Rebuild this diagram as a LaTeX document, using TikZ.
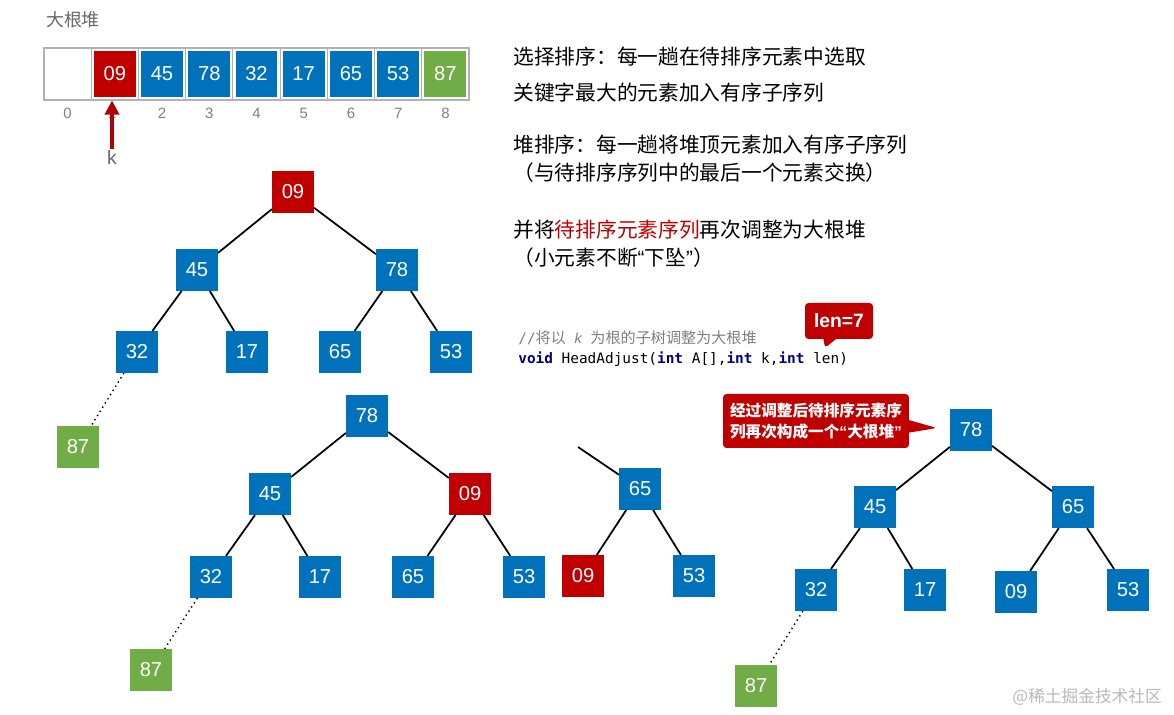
\documentclass[tikz,border=0pt]{standalone}
\usepackage{fontspec}
\setmainfont{Liberation Sans}
\setmonofont{DejaVu Sans Mono}
\newfontfamily\cjk{Noto Sans CJK SC}
\usetikzlibrary{arrows.meta,shapes.callouts}
\definecolor{hblue}{RGB}{0,114,188}
\definecolor{hred}{RGB}{192,0,0}
\definecolor{hgreen}{RGB}{112,173,71}
\definecolor{kwblue}{RGB}{0,0,128}
\definecolor{txtgray}{RGB}{105,105,105}
\newcommand{\kw}[1]{{\bfseries\color{kwblue}#1}}
\newcommand{\openq}{{\rmfamily “}}
\newcommand{\closeq}{{\rmfamily ”}}

\begin{document}
\begin{tikzpicture}[x=0.02cm,y=-0.02cm,
cell/.style={draw=gray!60,line width=0.6pt,minimum width=0.944cm,minimum height=1.04cm,inner sep=0pt},
val/.style={minimum width=0.84cm,minimum height=0.92cm,inner sep=0pt,text=white,font=\fontsize{11.5}{13}\selectfont},
idx/.style={text=gray,font=\fontsize{8.5}{10}\selectfont},
key/.style={minimum size=0.83cm,inner sep=0pt,text=white,font=\fontsize{11.5}{13}\selectfont},
bkey/.style={key,fill=hblue},
rkey/.style={key,fill=hred},
gkey/.style={key,fill=hgreen},
edge/.style={line width=1pt},
tail/.style={dotted,line width=0.8pt},
note/.style={anchor=west,inner sep=0pt,font=\cjk\fontsize{11.8}{14}\selectfont},
code/.style={anchor=west,inner sep=0pt,font=\ttfamily\fontsize{8.2}{10}\selectfont},
tip/.style={rectangle callout,fill=hred,rounded corners=2pt,inner sep=0pt,text=white}
]
\path[use as bounding box,fill=white] (0,0) rectangle (1174,715);

% array
\node[text=txtgray,font=\cjk\fontsize{10.2}{12}\selectfont](title) at (73,20) {大根堆};

\node[cell](c0) at (67.6,74) {};
\node[cell](c1) at (114.8,74) {};
\node[cell](c2) at (162,74) {};
\node[cell](c3) at (209.3,74) {};
\node[cell](c4) at (256.5,74) {};
\node[cell](c5) at (303.7,74) {};
\node[cell](c6) at (351,74) {};
\node[cell](c7) at (398.2,74) {};
\node[cell](c8) at (445.4,74) {};

\node[val,fill=hred](v1) at (c1) {09};
\node[val,fill=hblue](v2) at (c2) {45};
\node[val,fill=hblue](v3) at (c3) {78};
\node[val,fill=hblue](v4) at (c4) {32};
\node[val,fill=hblue](v5) at (c5) {17};
\node[val,fill=hblue](v6) at (c6) {65};
\node[val,fill=hblue](v7) at (c7) {53};
\node[val,fill=hgreen](v8) at (c8) {87};

\node[idx](i0) at (67.6,113) {0};
\node[idx](i1) at (112,113) {1};
\node[idx](i2) at (162,113) {2};
\node[idx](i3) at (209.3,113) {3};
\node[idx](i4) at (256.5,113) {4};
\node[idx](i5) at (303.7,113) {5};
\node[idx](i6) at (351,113) {6};
\node[idx](i7) at (398.2,113) {7};
\node[idx](i8) at (445.4,113) {8};

\node[text=txtgray,font=\fontsize{11}{13}\selectfont,inner sep=1pt](k) at (112,158) {k};
\draw[hred!92!black,line width=2.3pt,-{Triangle[length=8pt,width=8pt]}] (k.north) -- (k.north |- c1.south);

% notes
\node[note](n1) at (513,57) {选择排序：每一趟在待排序元素中选取};
\node[note](n2) at (513,93) {关键字最大的元素加入有序子序列};
\node[note](n3) at (513,145) {堆排序：每一趟将堆顶元素加入有序子序列};
\node[note](n4) at (513,173) {（与待排序序列中的最后一个元素交换）};
\node[note](n5) at (513,230) {并将{\color{hred}待排序元素序列}再次调整为大根堆};
\node[note](n6) at (513,258) {（小元素不断\openq 下坠\closeq）};

% code
\node[code,text=gray](cmt) at (518,338) {//{\cjk\fontsize{8.6}{10}\selectfont 将以}\ {\rmfamily\itshape k}\ {\cjk\fontsize{8.6}{10}\selectfont 为根的子树调整为大根堆}};
\node[code](sig) at (518,359) {\kw{void} HeadAdjust(\kw{int} A[],\kw{int} k,\kw{int} len)};

\coordinate (lenptr) at (825,348);
\node[tip,callout absolute pointer={(lenptr)},minimum width=1.36cm,minimum height=0.72cm,font=\bfseries\fontsize{11}{13}\selectfont](len) at (839,321) {len=7};

% tree before adjusting
\node[rkey](a09) at (293,192) {09};
\node[bkey](a45) at (197,270) {45};
\node[bkey](a78) at (397,270) {78};
\node[bkey](a32) at (137,352) {32};
\node[bkey](a17) at (247,352) {17};
\node[bkey](a65) at (340,352) {65};
\node[bkey](a53) at (451,352) {53};
\node[gkey](a87) at (78,447) {87};

\draw[edge] (a09) -- (a45);
\draw[edge] (a09) -- (a78);
\draw[edge] (a45) -- (a32);
\draw[edge] (a45) -- (a17);
\draw[edge] (a78) -- (a65);
\draw[edge] (a78) -- (a53);
\draw[tail] (a32) -- (a87);

% after first swap
\node[bkey](b78) at (367,416) {78};
\node[bkey](b45) at (270,494) {45};
\node[rkey](b09) at (470,494) {09};
\node[bkey](b32) at (211,577) {32};
\node[bkey](b17) at (320,577) {17};
\node[bkey](b65) at (413,577) {65};
\node[bkey](b53) at (524,577) {53};
\node[gkey](b87) at (151,670) {87};

\draw[edge] (b78) -- (b45);
\draw[edge] (b78) -- (b09);
\draw[edge] (b45) -- (b32);
\draw[edge] (b45) -- (b17);
\draw[edge] (b09) -- (b65);
\draw[edge] (b09) -- (b53);
\draw[tail] (b32) -- (b87);

% sinking 09
\coordinate (pcut) at (578,447);
\node[bkey](p65) at (640,489) {65};
\node[rkey](p09) at (583,576) {09};
\node[bkey](p53) at (694,576) {53};

\draw[edge] (pcut) -- (p65);
\draw[edge] (p65) -- (p09);
\draw[edge] (p65) -- (p53);

% big root heap again
\node[bkey](r78) at (971,430) {78};
\node[bkey](r45) at (875,507) {45};
\node[bkey](r65) at (1073,507) {65};
\node[bkey](r32) at (816,590) {32};
\node[bkey](r17) at (925,590) {17};
\node[bkey](r09) at (1016,592) {09};
\node[bkey](r53) at (1128,590) {53};
\node[gkey](r87) at (756,686) {87};

\draw[edge] (r78) -- (r45);
\draw[edge] (r78) -- (r65);
\draw[edge] (r45) -- (r32);
\draw[edge] (r45) -- (r17);
\draw[edge] (r65) -- (r09);
\draw[edge] (r65) -- (r53);
\draw[tail] (r32) -- (r87);

\coordinate (heapptr) at (937,428);
\node[tip,callout absolute pointer={(heapptr)},minimum width=3.72cm,minimum height=1.08cm,inner xsep=3pt,align=left,font=\cjk\bfseries\fontsize{8.9}{11.6}\selectfont](heap) at (816,421) {经过调整后待排序元素序\\列再次构成一个{\bfseries\openq}大根堆{\bfseries\closeq}};

\node[anchor=east,text=gray!55,font=\cjk\fontsize{9.5}{11}\selectfont](mark) at (1168,697) {@稀土掘金技术社区};
\end{tikzpicture}
\end{document}
